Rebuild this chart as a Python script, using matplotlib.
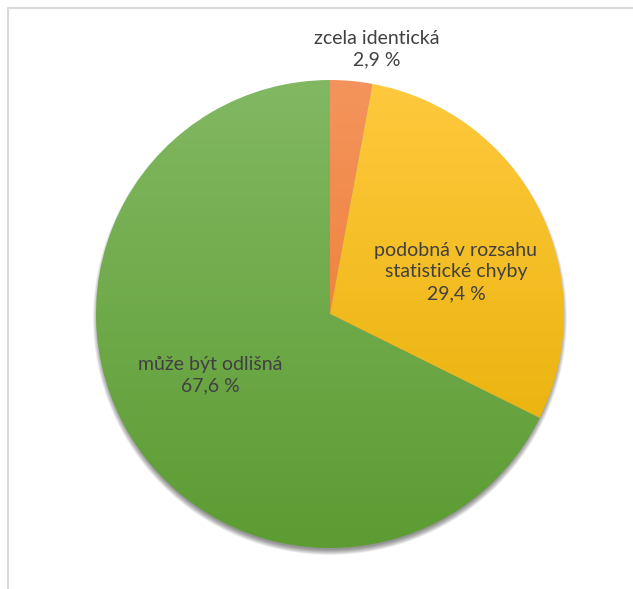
import numpy as np
import matplotlib.pyplot as plt
from matplotlib.colors import LinearSegmentedColormap
from matplotlib.patches import Circle

plt.rcParams['font.family'] = ['Lato', 'DejaVu Sans']

# odpovedi
labels = ["zcela identická", "podobná v rozsahu\nstatistické chyby", "může být odlišná"]
values = [2.9, 29.4, 67.6]

# barvy (horni / dolni okraj prechodu)
top_colors = ["#f4945c", "#ffc93e", "#82b862"]
bottom_colors = ["#ec7424", "#e3ad00", "#5c9c32"]

W, H = 633, 589
fig = plt.figure(figsize=(W / 100, H / 100), dpi=100)
ax = fig.add_axes([0, 0, 1, 1])

cx, cy, R = 330, H - 314, 234

# stin pod kolacem
for i in range(10):
    ax.add_patch(Circle((cx, cy - 4), R + 3 - i * 0.6, color="black",
                        alpha=0.05, lw=0, zorder=0))

wedges, _ = ax.pie(values, startangle=90, counterclock=False,
                   center=(cx, cy), radius=R,
                   wedgeprops=dict(linewidth=0, edgecolor="none"))

grad = np.linspace(0, 1, 256).reshape(-1, 1)
for w, c1, c2 in zip(wedges, top_colors, bottom_colors):
    w.set_facecolor("none")
    cmap = LinearSegmentedColormap.from_list("g", [c1, c2])
    im = ax.imshow(grad, cmap=cmap, aspect="auto", origin="upper",
                   extent=(cx - R, cx + R, cy - R, cy + R), zorder=1,
                   interpolation="bilinear")
    im.set_clip_path(w)

# popisky
label_pos = [(377, H - 49), (456, H - 272), (210, H - 375)]
for lab, v, (x, y) in zip(labels, values, label_pos):
    txt = lab + "\n" + f"{v:.1f}".replace(".", ",") + " %"
    ax.text(x, y, txt, ha="center", va="center", fontsize=14,
            color="#404040", linespacing=1.32, zorder=3)

# ramecek grafu
ax.plot([8, 8, W], [0, H - 8, H - 8], color="#d9d9d9", lw=1.5, zorder=4)

ax.set_xlim(0, W)
ax.set_ylim(0, H)
ax.set_aspect("equal")
ax.axis("off")

fig.savefig("out.png", dpi=100)
